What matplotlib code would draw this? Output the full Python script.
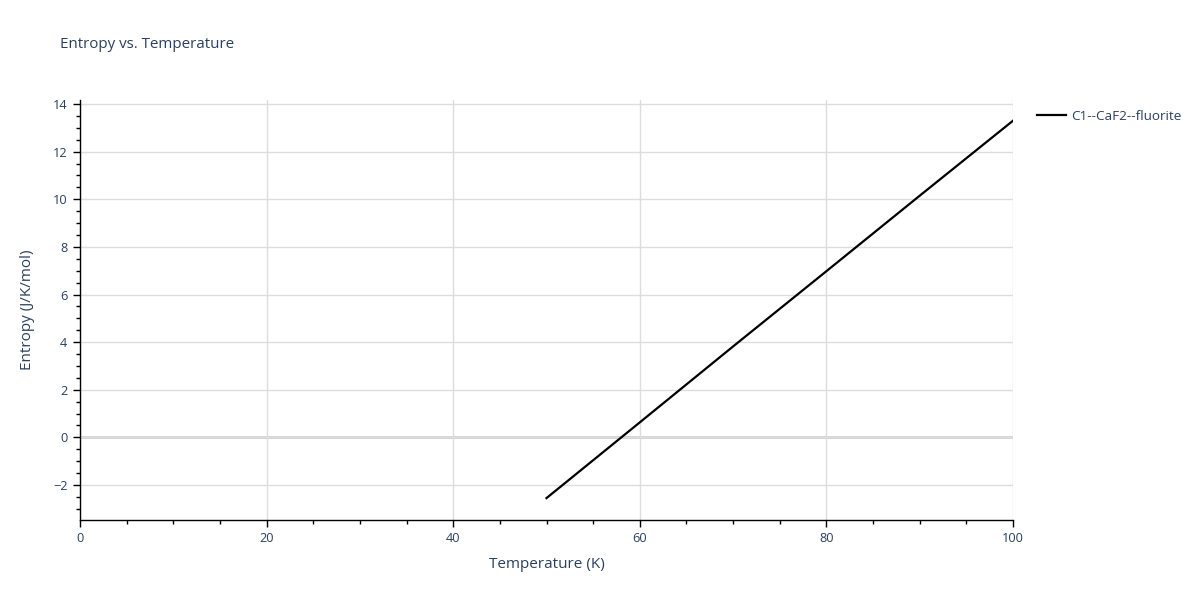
import matplotlib
matplotlib.use('Agg')
import matplotlib.pyplot as plt
from matplotlib.ticker import MultipleLocator

# values
temperature = [50, 60, 70, 80, 90, 100]
entropy = [-2.55, 0.63, 3.82, 6.98, 10.15, 13.3]
series_name = 'C1--CaF2--fluorite'

txt = '#2a3f5f'
grid = '#dddddd'

plt.rcParams['font.family'] = ['Open Sans', 'DejaVu Sans']

fig = plt.figure(figsize=(12, 6), dpi=100)
ax = fig.add_axes([80 / 1200, 1 - 520 / 600, 933 / 1200, 420 / 600])

ax.plot(temperature, entropy, color='black', lw=1.6, label=series_name, zorder=3)

ax.set_xlim(0, 100)
ax.set_ylim(-3.47, 14.17)
ax.xaxis.set_major_locator(MultipleLocator(20))
ax.xaxis.set_minor_locator(MultipleLocator(5))
ax.yaxis.set_major_locator(MultipleLocator(2))
ax.yaxis.set_minor_locator(MultipleLocator(0.5))

ax.grid(True, which='major', color=grid, lw=1, zorder=0)
ax.axhline(0, color='#d0d0d0', lw=2, zorder=1)
for s in ['top', 'right']:
    ax.spines[s].set_visible(False)
for s in ['left', 'bottom']:
    ax.spines[s].set_color('black')
    ax.spines[s].set_linewidth(1)

ax.tick_params(which='major', direction='out', length=5, width=1, color='black',
               labelsize=9.2, labelcolor=txt, pad=4)
ax.tick_params(which='minor', direction='out', length=3, width=1, color='black')
ax.set_yticklabels([f'{v:g}'.replace('-', '\u2212') for v in ax.get_yticks()])

ax.set_xlabel('Temperature (K)', fontsize=11, color=txt, labelpad=8)
ax.set_ylabel('Entropy (J/K/mol)', fontsize=11, color=txt, labelpad=13)
fig.text(60 / 1200, 1 - 45 / 600, 'Entropy vs. Temperature', fontsize=10.9,
         color=txt, va='center', ha='left')

leg = ax.legend(loc='upper left', bbox_to_anchor=(1.013, 1.005), frameon=False,
                fontsize=9.7, handlelength=2.1, handletextpad=0.4)
for t in leg.get_texts():
    t.set_color(txt)

fig.savefig('out.png', dpi=100)
